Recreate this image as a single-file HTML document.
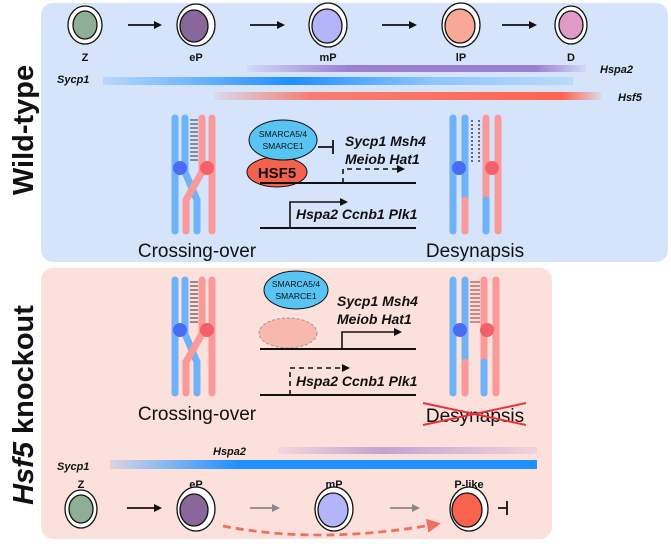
<!DOCTYPE html>
<html><head><meta charset="utf-8"><style>
html,body{margin:0;padding:0;background:#fff;}
svg{display:block;font-family:"Liberation Sans",Arial,sans-serif;}
.b{font-weight:bold;font-size:11px;text-anchor:middle;fill:#111}
.g{font-weight:bold;font-style:italic;font-size:14px;fill:#111}
.s{font-weight:bold;font-style:italic;font-size:11px;fill:#111}
</style></head><body>
<svg width="671" height="544" viewBox="0 0 671 544" xmlns="http://www.w3.org/2000/svg">
<defs>
<linearGradient id="hsp" x1="0" x2="1"><stop offset="0" stop-color="#9b7fd0" stop-opacity="0.1"/><stop offset="0.3" stop-color="#9b7fd0"/><stop offset="0.85" stop-color="#9b7fd0"/><stop offset="1" stop-color="#9b7fd0" stop-opacity="0.1"/></linearGradient>
<linearGradient id="syc" x1="0" x2="1"><stop offset="0" stop-color="#1e90ff" stop-opacity="0.15"/><stop offset="0.4" stop-color="#1e90ff"/><stop offset="0.7" stop-color="#8ec5fb"/><stop offset="1" stop-color="#b9dbfb"/></linearGradient>
<linearGradient id="hsf" x1="0" x2="1"><stop offset="0" stop-color="#ff6450" stop-opacity="0.1"/><stop offset="0.25" stop-color="#ff6450" stop-opacity="0.8"/><stop offset="0.9" stop-color="#ff6450"/><stop offset="1" stop-color="#ff6450" stop-opacity="0.1"/></linearGradient>
<linearGradient id="hsp2" x1="0" x2="1"><stop offset="0" stop-color="#a88ad0" stop-opacity="0.1"/><stop offset="0.4" stop-color="#a88ad0" stop-opacity="0.7"/><stop offset="1" stop-color="#a88ad0" stop-opacity="0.15"/></linearGradient>
<linearGradient id="syc2" x1="0" x2="1"><stop offset="0" stop-color="#1e90ff" stop-opacity="0.15"/><stop offset="0.3" stop-color="#1e90ff"/><stop offset="1" stop-color="#1e90ff"/></linearGradient>
<marker id="ah" markerWidth="8" markerHeight="8" refX="6" refY="4" orient="auto" markerUnits="userSpaceOnUse"><path d="M0,0 L8,4 L0,8 z" fill="#111"/></marker>
<marker id="ahg" markerWidth="8" markerHeight="8" refX="6" refY="4" orient="auto" markerUnits="userSpaceOnUse"><path d="M0,0 L8,4 L0,8 z" fill="#888"/></marker>
<marker id="ahr" markerWidth="14" markerHeight="14" refX="10" refY="7" orient="auto" markerUnits="userSpaceOnUse"><path d="M0,0 L14,7 L0,14 z" fill="#f07060"/></marker>
<g id="chrX">
<g stroke-linecap="round" stroke-width="7" fill="none">
<line x1="175" y1="118" x2="175" y2="231" stroke="#6eb2fa"/>
<line x1="185" y1="118" x2="185" y2="170" stroke="#6eb2fa"/>
<line x1="185" y1="172" x2="197" y2="200" stroke="#6eb2fa"/>
<line x1="197" y1="200" x2="197" y2="231" stroke="#6eb2fa"/>
<line x1="212" y1="118" x2="212" y2="231" stroke="#f9999a"/>
<line x1="202" y1="118" x2="202" y2="170" stroke="#f9999a"/>
<line x1="202" y1="172" x2="186" y2="200" stroke="#f9999a"/>
<line x1="186" y1="200" x2="186" y2="231" stroke="#f9999a"/>
</g>
<circle cx="180" cy="168" r="7" fill="#4a6cf5"/>
<circle cx="207" cy="168" r="7" fill="#f4606a"/>
</g>
</defs>

<!-- panels -->
<rect x="41" y="3" width="627" height="259" rx="12" fill="#d6e4fb"/>
<rect x="41" y="268" width="511" height="271" rx="12" fill="#fce0dc"/>

<text transform="translate(33,130) rotate(-90)" text-anchor="middle" font-weight="bold" font-size="29" fill="#111">Wild-type</text>
<text transform="translate(33,405) rotate(-90)" text-anchor="middle" font-weight="bold" font-size="29" fill="#111"><tspan font-style="italic">Hsf5</tspan> knockout</text>

<!-- top cells -->
<g stroke="#111" stroke-width="1.3">
<ellipse cx="85" cy="25" rx="17" ry="19" fill="#fff"/><ellipse cx="85" cy="25" rx="12" ry="14" fill="#8fae96"/>
<ellipse cx="196" cy="25" rx="19" ry="21" fill="#fff"/><ellipse cx="194" cy="26" rx="14" ry="16" fill="#8a679a"/>
<ellipse cx="328" cy="25" rx="19" ry="22" fill="#fff"/><ellipse cx="327" cy="26" rx="15" ry="17" fill="#b4b4f8"/>
<ellipse cx="461" cy="25" rx="19" ry="22" fill="#fff"/><ellipse cx="460" cy="26" rx="15" ry="17" fill="#f8a896"/>
<ellipse cx="571" cy="25" rx="16" ry="19" fill="#fff"/><ellipse cx="571" cy="25" rx="12" ry="14" fill="#e09ac8"/>
</g>
<g stroke="#111" stroke-width="1.8" marker-end="url(#ah)">
<line x1="128" y1="25" x2="160" y2="25"/><line x1="250" y1="25" x2="283" y2="25"/>
<line x1="382" y1="25" x2="415" y2="25"/><line x1="502" y1="25" x2="535" y2="25"/>
</g>
<text class="b" x="85" y="61">Z</text><text class="b" x="196" y="61">eP</text><text class="b" x="328" y="61">mP</text><text class="b" x="461" y="61">lP</text><text class="b" x="571" y="61">D</text>

<rect x="247" y="65" width="339" height="7" fill="url(#hsp)"/>
<text class="s" x="600" y="73">Hspa2</text>
<rect x="103" y="77" width="470" height="8" fill="url(#syc)"/>
<text class="s" x="57" y="83">Sycp1</text>
<rect x="215" y="92" width="386" height="8" fill="url(#hsf)"/>
<text class="s" x="618" y="101">Hsf5</text>

<!-- top chromosomes -->
<use href="#chrX"/>
<g stroke="#333" stroke-width="1">
<path d="M190,120h8M190,124h8M190,128h8M190,132h8M190,136h8M190,140h8M190,144h8M190,148h8M190,152h8M190,156h8M190,160h8"/>
</g>
<g stroke-linecap="round" stroke-width="7" fill="none">
<line x1="453" y1="118" x2="453" y2="231" stroke="#6eb2fa"/>
<line x1="465" y1="118" x2="465" y2="231" stroke="#6eb2fa"/>
<line x1="465" y1="200" x2="465" y2="231" stroke="#f9999a"/>
<line x1="486" y1="118" x2="486" y2="231" stroke="#f9999a"/>
<line x1="486" y1="200" x2="486" y2="231" stroke="#6eb2fa"/>
<line x1="498" y1="118" x2="498" y2="231" stroke="#f9999a"/>
</g>
<path d="M472,120v44M479,120v44" stroke="#444" stroke-width="1.5" stroke-dasharray="2,2"/>
<circle cx="459" cy="168" r="7" fill="#4a6cf5"/><circle cx="492" cy="168" r="7" fill="#f4606a"/>

<!-- top regulation -->
<ellipse cx="277" cy="172" rx="30" ry="15" fill="#f4624e" stroke="#111" stroke-width="1"/>
<text x="277" y="178" text-anchor="middle" font-weight="bold" font-size="15" fill="#111">HSF5</text>
<ellipse cx="283" cy="140" rx="34" ry="20" fill="#58c4f4" stroke="#111" stroke-width="1"/>
<text x="283" y="137" text-anchor="middle" font-size="8.5" fill="#111">SMARCA5/4</text>
<text x="283" y="149" text-anchor="middle" font-size="8.5" fill="#111">SMARCE1</text>
<path d="M318,147H333M333,140v14" stroke="#111" stroke-width="1.8" fill="none"/>
<text class="g" x="345" y="146">Sycp1 Msh4</text>
<text class="g" x="345" y="164">Meiob Hat1</text>
<line x1="260" y1="183" x2="416" y2="183" stroke="#111" stroke-width="2"/>
<path d="M343,183V169H403" stroke="#111" stroke-width="1.6" fill="none" stroke-dasharray="5,4" marker-end="url(#ah)"/>
<line x1="260" y1="228" x2="416" y2="228" stroke="#111" stroke-width="2"/>
<path d="M290,228V202H346" stroke="#111" stroke-width="1.6" fill="none" marker-end="url(#ah)"/>
<text class="g" x="296" y="219">Hspa2 Ccnb1 Plk1</text>
<text x="197" y="257" text-anchor="middle" font-size="19" fill="#111">Crossing-over</text>
<text x="475" y="257" text-anchor="middle" font-size="19" fill="#111">Desynapsis</text>

<!-- bottom chromosomes -->
<use href="#chrX" transform="translate(0,162)"/>
<g stroke="#333" stroke-width="1">
<path d="M190,282h8M190,286h8M190,290h8M190,294h8M190,298h8M190,302h8M190,306h8M190,310h8M190,314h8M190,318h8M190,322h8"/>
</g>
<g stroke-linecap="round" stroke-width="7" fill="none" transform="translate(0,162)">
<line x1="453" y1="118" x2="453" y2="231" stroke="#6eb2fa"/>
<line x1="465" y1="118" x2="465" y2="231" stroke="#6eb2fa"/>
<line x1="465" y1="200" x2="465" y2="231" stroke="#f9999a"/>
<line x1="484" y1="118" x2="484" y2="231" stroke="#f9999a"/>
<line x1="484" y1="200" x2="484" y2="231" stroke="#6eb2fa"/>
<line x1="496" y1="118" x2="496" y2="231" stroke="#f9999a"/>
</g>
<path d="M470,282h10M470,286h10M470,290h10M470,294h10M470,298h10M470,302h10M470,306h10M470,310h10M470,314h10M470,318h10M470,322h10" stroke="#a03030" stroke-width="1"/>
<circle cx="460" cy="330" r="7" fill="#4a6cf5"/><circle cx="487" cy="330" r="7" fill="#f4606a"/>

<!-- bottom regulation -->
<ellipse cx="296" cy="290" rx="32" ry="19" fill="#58c4f4" stroke="#111" stroke-width="1"/>
<text x="296" y="287" text-anchor="middle" font-size="8.5" fill="#111">SMARCA5/4</text>
<text x="296" y="299" text-anchor="middle" font-size="8.5" fill="#111">SMARCE1</text>
<ellipse cx="288" cy="333" rx="29" ry="15" fill="#f8b8ac" stroke="#999" stroke-width="1" stroke-dasharray="3,2"/>
<text class="g" x="337" y="306">Sycp1 Msh4</text>
<text class="g" x="337" y="324">Meiob Hat1</text>
<line x1="260" y1="349" x2="416" y2="349" stroke="#111" stroke-width="2"/>
<path d="M342,349V332H400" stroke="#111" stroke-width="1.6" fill="none" marker-end="url(#ah)"/>
<line x1="260" y1="395" x2="416" y2="395" stroke="#111" stroke-width="2"/>
<path d="M290,395V368H348" stroke="#111" stroke-width="1.6" fill="none" stroke-dasharray="5,4" marker-end="url(#ah)"/>
<text class="g" x="296" y="386">Hspa2 Ccnb1 Plk1</text>
<text x="197" y="420" text-anchor="middle" font-size="19" fill="#111">Crossing-over</text>
<text x="475" y="422" text-anchor="middle" font-size="19" fill="#111">Desynapsis</text>
<path d="M423,403L526,425M423,425L526,403" stroke="#e8333a" stroke-width="2"/>

<rect x="278" y="447" width="259" height="7" fill="url(#hsp2)"/>
<text class="s" x="213" y="455">Hspa2</text>
<rect x="110" y="460" width="427" height="9" fill="url(#syc2)"/>
<text class="s" x="57" y="470">Sycp1</text>

<text class="b" x="81" y="488">Z</text><text class="b" x="196" y="488">eP</text><text class="b" x="334" y="488">mP</text><text class="b" x="469" y="488">P-like</text>
<g stroke="#111" stroke-width="1.3">
<ellipse cx="81" cy="509" rx="16" ry="19" fill="#fff"/><ellipse cx="81" cy="509" rx="12" ry="14" fill="#8fae96"/>
<ellipse cx="196" cy="509" rx="19" ry="22" fill="#fff"/><ellipse cx="194" cy="510" rx="14" ry="16" fill="#8a679a"/>
<ellipse cx="334" cy="509" rx="19" ry="22" fill="#fff"/><ellipse cx="333" cy="510" rx="15" ry="17" fill="#b4b4f8"/>
<ellipse cx="469" cy="509" rx="19" ry="22" fill="#fff"/><ellipse cx="467" cy="510" rx="15" ry="17" fill="#f8624e"/>
</g>
<line x1="127" y1="508" x2="160" y2="508" stroke="#111" stroke-width="1.8" marker-end="url(#ah)"/>
<line x1="250" y1="508" x2="278" y2="508" stroke="#888" stroke-width="1.8" marker-end="url(#ahg)"/>
<line x1="390" y1="508" x2="418" y2="508" stroke="#888" stroke-width="1.8" marker-end="url(#ahg)"/>
<path d="M498,508H507M507,501v14" stroke="#111" stroke-width="1.8" fill="none"/>
<path d="M223,526 Q320,545 437,524" stroke="#f07060" stroke-width="2.8" fill="none" stroke-dasharray="8,5" marker-end="url(#ahr)"/>
</svg>
</body></html>
